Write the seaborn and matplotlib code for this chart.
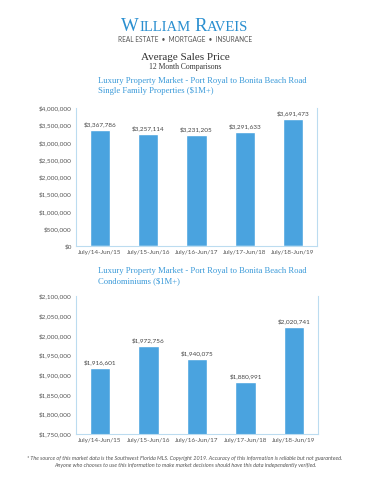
import pandas as pd
import matplotlib.pyplot as plt
import seaborn as sns
from matplotlib.ticker import FuncFormatter

periods = ["July/14-Jun/15", "July/15-Jun/16", "July/16-Jun/17", "July/17-Jun/18", "July/18-Jun/19"]
single_family = [3367786, 3257114, 3231205, 3291633, 3691473]
condos = [1916601, 1972756, 1940075, 1880991, 2020741]

sf_ticks = [0, 500000, 1000000, 1500000, 2000000, 2500000, 3000000, 3500000, 4000000]
condo_ticks = [1750000, 1800000, 1850000, 1900000, 1950000, 2000000, 2050000, 2100000]

bar_color = "#4aa3df"
spine_color = "#bcdcf0"
blue_text = "#3a9ad9"
logo_color = "#2a8fd0"

sns.set_style("white")
plt.rcParams['font.family'] = ['Lato', 'DejaVu Sans']

fig = plt.figure(figsize=(3.7, 4.8), dpi=100)
renderer = fig.canvas.get_renderer()

# logo in small caps: measure pieces, then center the whole word
pieces = [("W", 13.5), ("ILLIAM", 10.5), (" ", 10.5), ("R", 13.5), ("AVEIS", 10.5)]
texts = []
widths = []
for s, size in pieces:
    t = fig.text(0, 0.936, s, fontsize=size, family='Liberation Serif', color=logo_color,
                 ha='left', va='baseline')
    w = t.get_window_extent(renderer).width / fig.bbox.width
    if s == " ":
        w = 0.012
    texts.append(t)
    widths.append(w)
x = 0.5 - sum(widths) / 2
for t, w in zip(texts, widths):
    t.set_x(x)
    x += w

fig.text(0.5, 0.917, "REAL ESTATE  •  MORTGAGE  •  INSURANCE", ha='center', va='center',
         fontsize=4.7, color="#555555")
fig.text(0.5, 0.881, "Average Sales Price", ha='center', va='center', fontsize=8,
         family='Liberation Serif', color="#333333")
fig.text(0.5, 0.860, "12 Month Comparisons", ha='center', va='center', fontsize=5.5,
         family='Liberation Serif', color="#333333")


def fmt_dollar(v, pos=None):
    return "${:,.0f}".format(v)


def draw_panel(ax, values, ticks, title_lines, title_y):
    df = pd.DataFrame({"period": periods, "price": values})
    sns.barplot(data=df, x="period", y="price", color=bar_color, width=0.42,
                saturation=1, ax=ax)
    ax.set_ylim(ticks[0], ticks[-1])
    ax.set_yticks(ticks)
    ax.yaxis.set_major_formatter(FuncFormatter(fmt_dollar))
    ax.set_xlabel("")
    ax.set_ylabel("")
    ax.tick_params(axis='both', labelsize=4.6, colors="#555555", length=0, pad=3)
    for s in ["left", "right", "bottom"]:
        ax.spines[s].set_color(spine_color)
        ax.spines[s].set_linewidth(0.8)
    ax.spines["top"].set_visible(False)
    for i, v in enumerate(values):
        ax.text(i, v + (ticks[-1] - ticks[0]) * 0.02, fmt_dollar(v), ha='center',
                va='bottom', fontsize=4.6, color="#444444")
    fig.text(0.265, title_y, title_lines[0], ha='left', va='center', fontsize=6.2,
             family='Liberation Serif', color=blue_text)
    fig.text(0.265, title_y - 0.021, title_lines[1], ha='left', va='center', fontsize=6.2,
             family='Liberation Serif', color=blue_text)


ax1 = fig.add_axes([0.205, 0.4875, 0.652, 0.2875])
draw_panel(ax1, single_family, sf_ticks,
           ["Luxury Property Market - Port Royal to Bonita Beach Road",
            "Single Family Properties ($1M+)"], 0.831)

ax2 = fig.add_axes([0.205, 0.0958, 0.655, 0.2875])
draw_panel(ax2, condos, condo_ticks,
           ["Luxury Property Market - Port Royal to Bonita Beach Road",
            "Condominiums ($1M+)"], 0.435)

# footnote
fig.text(0.5, 0.044, "* The source of this market data is the Southwest Florida MLS. Copyright 2019. "
         "Accuracy of this information is reliable but not guaranteed.",
         ha='center', va='center', fontsize=4.0, style='italic', color="#555555")
fig.text(0.5, 0.031, "Anyone who chooses to use this information to make market decisions "
         "should have this data independently verified.",
         ha='center', va='center', fontsize=4.0, style='italic', color="#555555")

fig.savefig("out.png", dpi=100)
